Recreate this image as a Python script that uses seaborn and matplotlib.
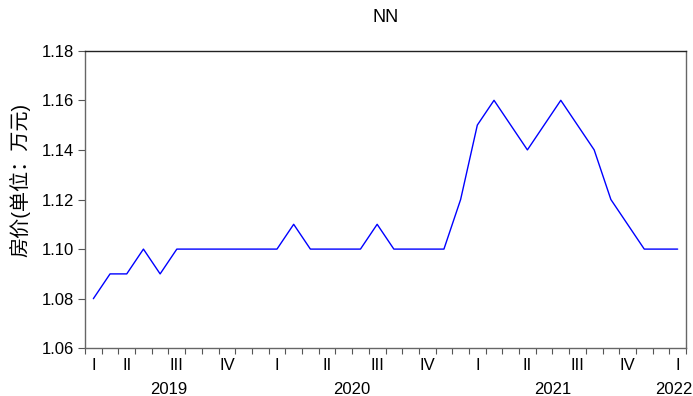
import numpy as np
import pandas as pd
import matplotlib
matplotlib.use('Agg')
import matplotlib.pyplot as plt
import matplotlib.transforms as mtransforms
import seaborn as sns

# monthly house price, 2019M03 - 2022M02
months = pd.period_range('2019-03', periods=36, freq='M')
price = [1.08, 1.09, 1.09, 1.10, 1.09, 1.10, 1.10, 1.10, 1.10, 1.10, 1.10, 1.10,
         1.11, 1.10, 1.10, 1.10, 1.10, 1.11, 1.10, 1.10, 1.10, 1.10, 1.12, 1.15,
         1.16, 1.15, 1.14, 1.15, 1.16, 1.15, 1.14, 1.12, 1.11, 1.10, 1.10, 1.10]
quarter_names = ['I', 'II', 'III', 'IV']
title = 'NN'
ylabel = '房价(单位：万元)'

sns.set_style('white')
plt.rcParams['font.family'] = ['Liberation Sans', 'Noto Sans CJK SC']
plt.rcParams['text.color'] = 'black'
plt.rcParams['xtick.labelcolor'] = 'black'
plt.rcParams['ytick.labelcolor'] = 'black'

df = pd.DataFrame({'idx': np.arange(len(months)), 'price': price})

W, H = 693, 396
fig = plt.figure(figsize=(W / 100, H / 100), dpi=100)
ax = fig.add_axes([85 / W, 1 - 348.3 / H, (686 - 85) / W, (348.3 - 50.7) / H])

sns.lineplot(data=df, x='idx', y='price', ax=ax, color='#0000ff', linewidth=1.0)

n = len(months)
ax.set_xlim(-0.5, n - 0.5)
ax.set_ylim(1.06, 1.18)
ax.set_yticks(np.arange(1.06, 1.181, 0.02))
ax.set_yticklabels([f'{v:.2f}' for v in np.arange(1.06, 1.181, 0.02)])
ax.set_xlabel('')
ax.set_ylabel('')

# quarter labels at middle month of each quarter, clipped into range
q_pos, q_lab = [], []
for (yr, q), grp in df.groupby([months.year, months.quarter]):
    mid = grp['idx'].min() - (months[grp.index[0]].month - 1) % 3 + 1
    q_pos.append(min(max(mid, 0), n - 1))
    q_lab.append(quarter_names[q - 1])
ax.set_xticks(q_pos)
ax.set_xticklabels(q_lab)
ax.set_xticks(np.arange(-0.5, n, 1), minor=True)
ax.tick_params(axis='x', which='major', length=0, pad=7, labelsize=12)
ax.tick_params(axis='x', which='minor', length=4, width=0.8, color='#555555', direction='out')
ax.tick_params(axis='y', length=5, width=0.8, color='#555555', direction='out', pad=3, labelsize=12)
ax.tick_params(bottom=True, left=True, which='both')

# year labels centred on their months; the last (partial) one sits flush right
xtrans = ax.get_xaxis_transform()
for yr, grp in df.groupby(months.year):
    if yr == months.year.max():
        tr = mtransforms.offset_copy(xtrans, fig=fig, x=6, units='dots')
        ax.text(n - 0.5, -0.14, str(yr), transform=tr, ha='right', va='center', fontsize=12)
    else:
        ax.text(grp['idx'].mean(), -0.14, str(yr), transform=xtrans,
                ha='center', va='center', fontsize=12)

for side in ['left', 'bottom', 'right']:
    ax.spines[side].set_color('#666666')
    ax.spines[side].set_linewidth(1.0)
ax.spines['top'].set_color('#222222')
ax.spines['top'].set_linewidth(1.0)

fig.text(386 / W, 1 - 18 / H, title, ha='center', va='center', fontsize=13)
fig.text(20 / W, 1 - 180 / H, ylabel, rotation=90, ha='center', va='center', fontsize=14.5)

fig.savefig('out.png', dpi=100)
